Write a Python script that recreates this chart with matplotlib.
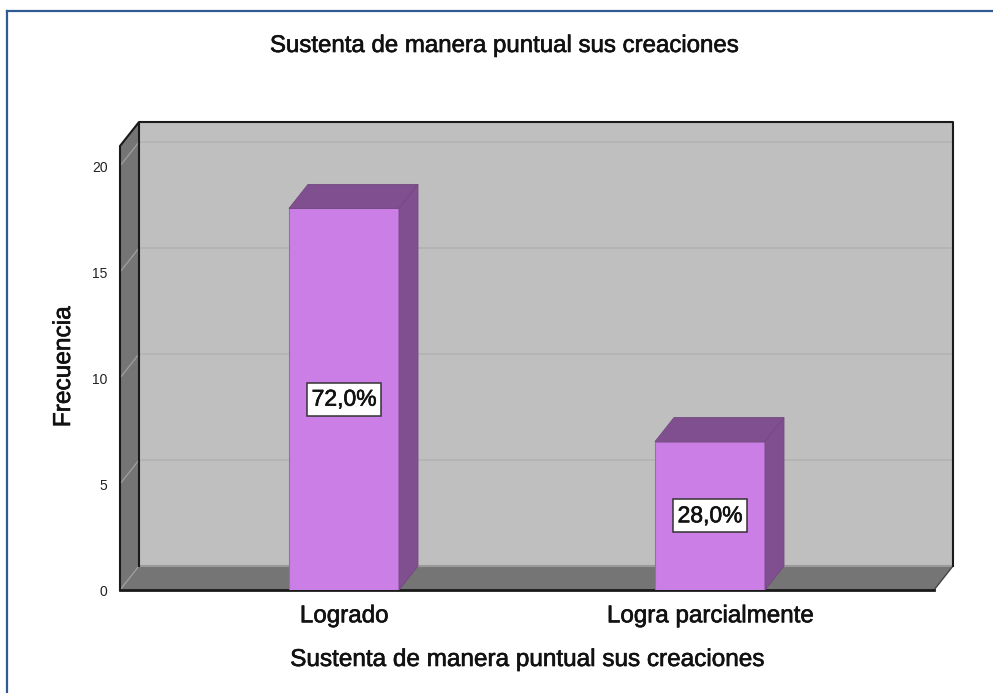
import matplotlib
matplotlib.use('Agg')
import matplotlib.pyplot as plt
import matplotlib.patheffects as pe
from matplotlib.patches import Polygon, Rectangle

plt.rcParams['font.family'] = ['Liberation Sans', 'DejaVu Sans']

titulo = 'Sustenta de manera puntual sus creaciones'
categorias = ['Logrado', 'Logra parcialmente']
frecuencias = [18, 7]
porcentajes = ['72,0%', '28,0%']
yticks = [0, 5, 10, 15, 20]

W, H = 993, 693
fig = plt.figure(figsize=(W / 100, H / 100), dpi=100)
fig.patch.set_facecolor('white')

# axes box in pixels: front-left corner to back-right corner
left, right, top, bottom = 120, 953, 122, 590
ax = fig.add_axes([left / W, 1 - bottom / H, (right - left) / W, (bottom - top) / H])

px_x = 366.0  # pixels between the two categories
px_y = 21.2   # pixels per unit of frequency
ax.set_xlim((left - 344) / px_x, (right - 344) / px_x)
ax.set_ylim(0, (bottom - top) / px_y)
ax.patch.set_visible(False)
for s in ax.spines.values():
    s.set_visible(False)

dx = 19 / px_x
dy = 24 / px_y
x0, x1 = ax.get_xlim()
front_r = x1 - dx
wall_top = ax.get_ylim()[1]

edge = '#1a1a1a'
grueso = [pe.withStroke(linewidth=0.45, foreground='#111111')]

# back wall
ax.add_patch(Polygon([(x0 + dx, dy), (x1, dy), (x1, wall_top), (x0 + dx, wall_top)],
                     fc='#bfbfbf', ec='none', zorder=1))
# left wall
ax.add_patch(Polygon([(x0, 0), (x0 + dx, dy), (x0 + dx, wall_top), (x0, wall_top - dy)],
                     fc='#757575', ec='none', zorder=1))
# floor
ax.add_patch(Polygon([(x0, 0), (front_r, 0), (x1, dy), (x0 + dx, dy)],
                     fc='#757575', ec='none', zorder=1))

# gridlines, on left wall then back wall
for v in yticks:
    ax.plot([x0, x0 + dx], [v, v + dy], color='#a0a0a0', lw=0.9, zorder=2)
    if v > 0:
        ax.plot([x0 + dx, x1], [v + dy, v + dy], color='#b2b2b2', lw=1.2, zorder=2)
ax.plot([x0 + dx, x1], [dy, dy], color='#9a9a9a', lw=1.5, zorder=2)
ax.plot([front_r, x1], [0, dy], color='#444444', lw=1, zorder=2)

# outline of the box
ax.plot([x0, x0, x0 + dx, x1, x1], [0, wall_top - dy, wall_top, wall_top, dy],
        color=edge, lw=1.5, zorder=3, clip_on=False)
ax.plot([x0 + dx, x0 + dx], [dy, wall_top], color=edge, lw=1.5, zorder=3)
ax.plot([x0, front_r], [0, 0], color=edge, lw=2, zorder=3, clip_on=False)

# bars
ancho = 110 / px_x
for i, v in enumerate(frecuencias):
    a, b = i - ancho / 2, i + ancho / 2
    ax.add_patch(Rectangle((a, 0), ancho, v, fc='#cb7fe6', ec='#a066b8', lw=0.8, zorder=4))
    ax.add_patch(Polygon([(a, v), (b, v), (b + dx, v + dy), (a + dx, v + dy)],
                         fc='#7f4f8f', ec='#74487f', lw=0.6, zorder=4))
    ax.add_patch(Polygon([(b, 0), (b + dx, dy), (b + dx, v + dy), (b, v)],
                         fc='#7f4f8f', ec='#74487f', lw=0.6, zorder=4))
    t = ax.text(i, v / 2, porcentajes[i], ha='center', va='center', fontsize=16.5,
                color='#111111', zorder=6,
                bbox=dict(boxstyle='square,pad=0.22', fc='white', ec='#333333', lw=1.1))
    t.set_path_effects(grueso)

ax.set_xticks([0, 1])
ax.set_xticklabels(categorias, fontsize=17.4, color='#111111', path_effects=grueso)
ax.set_yticks(yticks)
ax.set_yticklabels([str(v) for v in yticks], fontsize=10, color='#222222')
ax.tick_params(axis='x', length=0, pad=11)
ax.tick_params(axis='y', length=0, pad=9)

ax.set_ylabel('Frecuencia', fontsize=17.6, color='#111111', path_effects=grueso)
ax.yaxis.set_label_coords((75 - left) / (right - left), (bottom - 367) / (bottom - top))

fig.text(503.5 / W, 1 - 46 / H, titulo, ha='center', va='center', fontsize=17.3,
         color='#111111', path_effects=grueso)
fig.text(526.5 / W, 1 - 660 / H, titulo, ha='center', va='center', fontsize=17.5,
         color='#111111', path_effects=grueso)

# blue frame, only top and left are visible
fig.add_artist(plt.Line2D([7 / W, 7 / W], [0, 1 - 10.5 / H], color='#2f5a92', lw=1.6))
fig.add_artist(plt.Line2D([7 / W, 1], [1 - 10.5 / H, 1 - 10.5 / H], color='#2f5a92', lw=1.6))

fig.savefig('out.png', dpi=100, facecolor='white')
